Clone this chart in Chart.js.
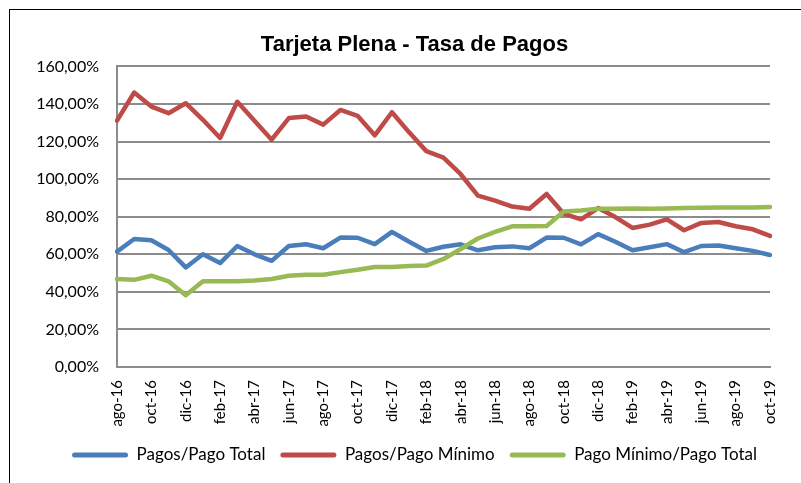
<!DOCTYPE html>
<html lang="es">
<head>
<meta charset="UTF-8">
<title>Tarjeta Plena - Tasa de Pagos</title>
<script src="https://cdn.jsdelivr.net/npm/chart.js@4.4.1/dist/chart.umd.min.js"></script>
<style>
    html, body {
        margin: 0;
        padding: 0;
        background: #fff;
    }
    .wrap {
        position: relative;
        width: 801px;
        height: 483px;
        overflow: hidden;
    }
    .frame {
        position: absolute;
        left: 9px;
        top: 9px;
        width: 900px;
        height: 600px;
        border-left: 1px solid #000;
        border-top: 1px solid #000;
    }
    #tasaPagosChart {
        position: absolute;
        left: 0;
        top: 0;
    }
</style>
</head>
<body>
<div class="wrap">
    <div class="frame"></div>
    <canvas id="tasaPagosChart" width="801" height="483"></canvas>
</div>

<script>
// ============================ data ==============================
const meses = [
    'ago-16', 'sep-16', 'oct-16', 'nov-16', 'dic-16',
    'ene-17', 'feb-17', 'mar-17', 'abr-17', 'may-17', 'jun-17', 'jul-17',
    'ago-17', 'sep-17', 'oct-17', 'nov-17', 'dic-17',
    'ene-18', 'feb-18', 'mar-18', 'abr-18', 'may-18', 'jun-18', 'jul-18',
    'ago-18', 'sep-18', 'oct-18', 'nov-18', 'dic-18',
    'ene-19', 'feb-19', 'mar-19', 'abr-19', 'may-19', 'jun-19', 'jul-19',
    'ago-19', 'sep-19', 'oct-19'
];

// valores en %
const pagosPagoTotal = [
    61.4, 68.1, 67.5, 62.3, 53.0, 60.0, 55.3, 64.4, 60.0, 56.5,
    64.4, 65.3, 63.2, 68.9, 68.8, 65.4, 71.9, 66.7, 61.8, 64.0,
    65.3, 62.1, 63.7, 64.2, 63.2, 68.9, 68.8, 65.3, 70.7, 66.7,
    62.1, 63.7, 65.4, 61.1, 64.4, 64.7, 63.2, 61.8, 59.6
];

const pagosPagoMinimo = [
    131.1, 146.1, 138.6, 135.1, 140.4, 131.6, 121.9, 141.2, 131.1, 121.0,
    132.5, 133.3, 129.0, 136.8, 133.7, 123.3, 135.6, 124.9, 114.9, 111.4,
    102.6, 91.2, 88.6, 85.4, 84.2, 92.1, 81.6, 78.6, 84.6, 79.8,
    74.0, 75.8, 78.6, 72.8, 76.7, 77.2, 74.9, 73.3, 69.8
];

const pagoMinimoPagoTotal = [
    46.8, 46.4, 48.6, 45.6, 38.2, 45.6, 45.6, 45.6, 46.0, 46.8,
    48.6, 49.1, 49.1, 50.5, 51.8, 53.2, 53.2, 53.7, 54.0, 57.5,
    62.8, 68.4, 71.9, 74.9, 74.9, 75.1, 82.8, 83.3, 84.2, 84.2,
    84.4, 84.2, 84.4, 84.6, 84.7, 84.9, 84.9, 84.9, 85.2
];

const yTicks = [0, 20, 40, 60, 80, 100, 120, 140, 160];

// ============================ end data ==============================

// ============================ chart ==============================
// corre titulo y leyenda un poco a la derecha (como en el original)
const boxShift = {
    id: 'boxShift',
    afterLayout(chart) {
        [chart.legend, chart.titleBlock].forEach(box => {
            if (box) {
                box.left += 25;
                box.right += 25;
            }
        });
    }
};

document.addEventListener('DOMContentLoaded', function () {
    const ctx = document.getElementById('tasaPagosChart').getContext('2d');

    const lineStyle = (color, order) => ({
        borderColor: color,
        backgroundColor: color,
        borderWidth: 4.5,
        pointRadius: 0,
        pointHoverRadius: 0,
        tension: 0,
        fill: false,
        borderCapStyle: 'round',
        borderJoinStyle: 'round',
        order: order
    });

    new Chart(ctx, {
        type: 'line',
        data: {
            labels: meses,
            datasets: [
                {label: 'Pagos/Pago Total', data: pagosPagoTotal, ...lineStyle('#4A7EBB', 3)},
                {label: 'Pagos/Pago Mínimo', data: pagosPagoMinimo, ...lineStyle('#BE4B48', 2)},
                {label: 'Pago Mínimo/Pago Total', data: pagoMinimoPagoTotal, ...lineStyle('#98B954', 1)}
            ]
        },
        plugins: [boxShift],
        options: {
            responsive: false,
            animation: false,
            layout: {
                padding: {left: 0, right: 22, top: 0, bottom: 9.5}
            },
            plugins: {
                title: {
                    display: true,
                    text: 'Tarjeta Plena - Tasa de Pagos',
                    color: '#000',
                    font: {family: "'Liberation Sans Narrow', 'Liberation Sans', sans-serif", size: 22, weight: 'bold'},
                    padding: {top: 32, bottom: 8}
                },
                legend: {
                    position: 'bottom',
                    labels: {
                        color: '#000',
                        font: {family: 'Lato, sans-serif', size: 17},
                        boxWidth: 56,
                        boxHeight: 5,
                        padding: 15,
                        useBorderRadius: true,
                        borderRadius: 2.5,
                        sort: (a, b) => a.datasetIndex - b.datasetIndex,
                        generateLabels: function (chart) {
                            const items = Chart.defaults.plugins.legend.labels.generateLabels(chart);
                            items.forEach(it => {
                                it.lineWidth = 0;
                                it.strokeStyle = 'rgba(0,0,0,0)';
                            });
                            return items;
                        }
                    }
                },
                tooltip: {enabled: false}
            },
            scales: {
                x: {
                    grid: {display: false, drawTicks: false},
                    border: {display: true, color: '#8c8c8c', width: 2},
                    ticks: {
                        color: '#000',
                        font: {family: 'Lato, sans-serif', size: 15},
                        autoSkip: false,
                        minRotation: 90,
                        maxRotation: 90,
                        padding: 13,
                        callback: function (value, index) {
                            return index % 2 === 0 ? meses[index] : '';
                        }
                    },
                    afterFit: function (scale) {
                        scale.height = 64.5;
                    }
                },
                y: {
                    min: 0,
                    max: 160,
                    afterBuildTicks: function (scale) {
                        scale.ticks = yTicks.map(v => ({value: v}));
                    },
                    grid: {color: '#8c8c8c', lineWidth: 2, drawTicks: false},
                    border: {display: true, color: '#8c8c8c', width: 2},
                    ticks: {
                        color: '#000',
                        font: {family: 'Lato, sans-serif', size: 16},
                        padding: 18,
                        callback: function (value) {
                            return value.toFixed(2).replace('.', ',') + '%';
                        }
                    },
                    afterFit: function (scale) {
                        scale.width = 117;
                    }
                }
            }
        }
    });
});
// ============================ end chart ==============================
</script>
</body>
</html>
